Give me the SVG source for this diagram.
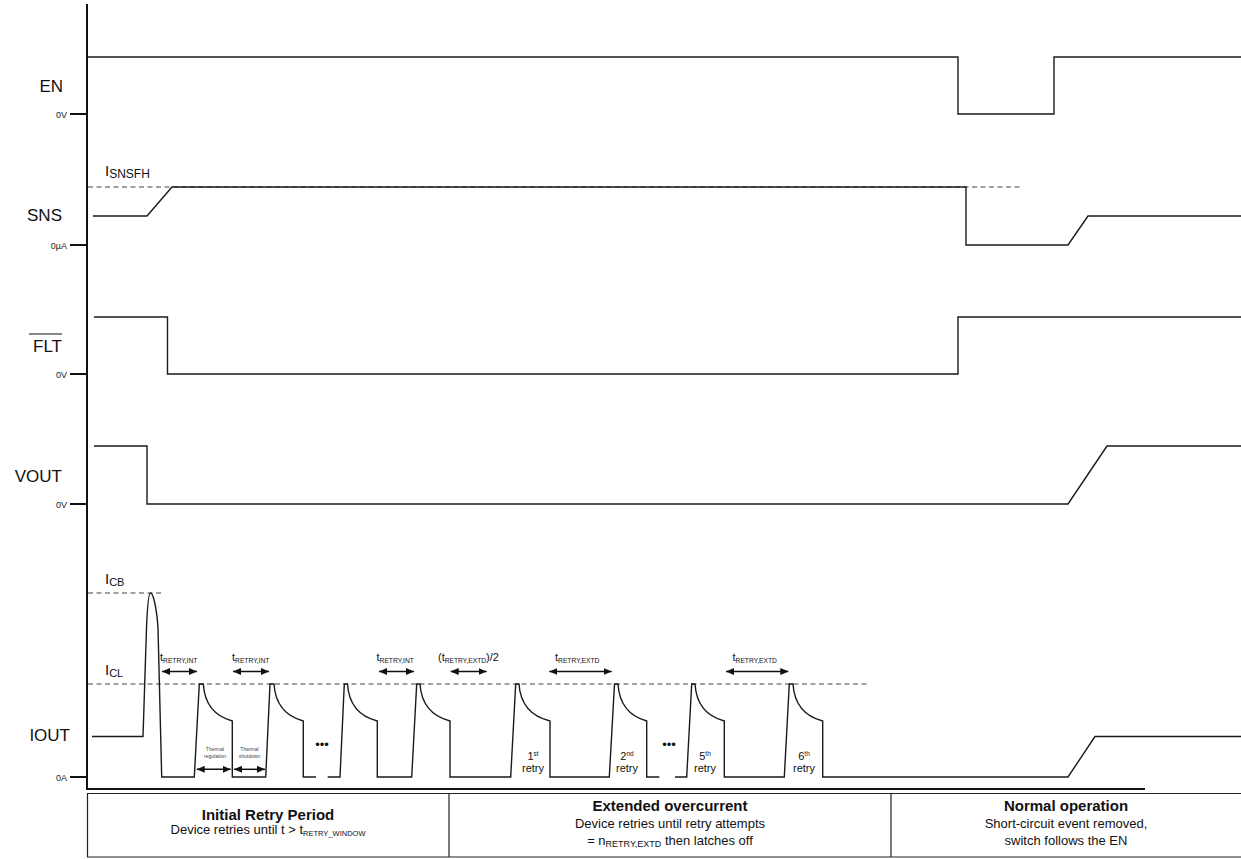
<svg xmlns="http://www.w3.org/2000/svg" width="1241" height="859" viewBox="0 0 1241 859">
<defs>
<style>
.sig{fill:none;stroke:#1a1a1a;stroke-width:1.4;stroke-linejoin:miter}
.dash{fill:none;stroke:#444;stroke-width:1.1;stroke-dasharray:5 3.5}
.ax{fill:none;stroke:#111;stroke-width:2}
.lbl{font-family:"Liberation Sans",Arial,sans-serif;font-size:17px;fill:#111;text-anchor:end}
.sm{font-family:"Liberation Sans",Arial,sans-serif;font-size:9px;fill:#222;text-anchor:end}
.lev{font-family:"Liberation Sans",Arial,sans-serif;font-size:15px;fill:#111}
.t{font-family:"Liberation Sans",Arial,sans-serif;font-size:11px;fill:#111}
.th{font-family:"Liberation Sans",Arial,sans-serif;font-size:5px;fill:#444;text-anchor:middle}
.rt{font-family:"Liberation Sans",Arial,sans-serif;font-size:11px;fill:#111;text-anchor:middle}
.dots{font-family:"Liberation Sans",Arial,sans-serif;font-size:13px;fill:#111;text-anchor:middle}
.arr{fill:none;stroke:#111;stroke-width:1.5;marker-start:url(#ah);marker-end:url(#ah)}
.hd{font-family:"Liberation Sans",Arial,sans-serif;font-size:15px;font-weight:bold;fill:#111;text-anchor:middle}
.tx{font-family:"Liberation Sans",Arial,sans-serif;font-size:13px;fill:#111;text-anchor:middle}
.tb{fill:none;stroke:#222;stroke-width:1.2}
</style>
<marker id="ah" viewBox="0 0 8 7" refX="8" refY="3.5" markerWidth="8" markerHeight="7" markerUnits="userSpaceOnUse" orient="auto-start-reverse">
<path d="M0,0 L8,3.5 L0,7 z" fill="#111"/>
</marker>
</defs>
<rect width="1241" height="859" fill="#fff"/>

<g id="axes">
<path class="ax" d="M87,4 V789 H1145"/>
<path class="ax" d="M70,114 H87 M70,245 H87 M70,374 H87 M70,504 H87 M70,777 H87"/>
<text class="sm" x="67" y="118">0V</text>
<text class="sm" x="67" y="249">0µA</text>
<text class="sm" x="67" y="378">0V</text>
<text class="sm" x="67" y="508">0V</text>
<text class="sm" x="67" y="781">0A</text>
</g>

<g id="labels">
<text class="lbl" x="63" y="92">EN</text>
<text class="lbl" x="62" y="221">SNS</text>
<text class="lbl" x="62" y="352">FLT</text>
<line x1="29" y1="334" x2="62" y2="334" stroke="#111" stroke-width="1.2"/>
<text class="lbl" x="62" y="482">VOUT</text>
<text class="lbl" x="70" y="741">IOUT</text>
</g>

<g id="en">
<path class="sig" d="M88,57 H958 V114 H1054 V57 H1241"/>
</g>

<g id="sns">
<path class="dash" d="M88,187 H1020"/>
<text class="lev" x="105" y="176">I<tspan font-size="12" dy="2">SNSFH</tspan></text>
<path class="sig" d="M93,216 H147 L172,187 H966 V245 H1068 L1088,216 H1241"/>
</g>

<g id="flt">
<path class="sig" d="M94,317 H167.5 V374 H958 V317 H1241"/>
</g>

<g id="vout">
<path class="sig" d="M94,446 H147 V504 H1068 L1107,446 H1241"/>
</g>

<g id="iout">
<path class="dash" d="M88,593 H163"/>
<path class="dash" d="M88,684 H868"/>
<text class="lev" x="105" y="584">I<tspan font-size="11" dy="2">CB</tspan></text>
<text class="lev" x="105" y="675">I<tspan font-size="11" dy="2">CL</tspan></text>
<path class="sig" d="M92,736.5 H143 L146.5,628 C147.5,603 149,593 150.5,593 C153,593 156.5,606 158,628 L161.7,777 H194.3 L199.3,684 H203.3 C204.5,703 214,716 232.3,721 V777 H265.7 L270,684 H274 C275.2,703 285,716 303.3,721 V777 H316"/>
<path class="sig" d="M327.7,777 H340 L344.3,684 H347.5 C348.7,703 358,716 377.3,721 V777 H411.7 L416.7,684 H420 C421.2,703 431,716 450,721 V777 H510.7 L515.7,684 H519 C520.2,703 530,716 550,721 V777 H609.3 L614.5,684 H618 C619.2,703 628.5,716 646.7,721 V777 H659.3"/>
<path class="sig" d="M675,777 H686.7 L691.7,684 H695 C696.2,703 705.5,716 724.3,721 V777 H784.3 L789.3,684 H793 C794.2,703 803.5,716 822.7,721 V777 H1068 L1095,736.5 H1241"/>
</g>

<g id="annotations">
<text class="t" x="160" y="661">t<tspan font-size="6.7" dy="2">RETRY,INT</tspan></text>
<text class="t" x="232" y="661">t<tspan font-size="6.7" dy="2">RETRY,INT</tspan></text>
<text class="t" x="376.5" y="661">t<tspan font-size="6.7" dy="2">RETRY,INT</tspan></text>
<text class="t" x="438" y="661">(t<tspan font-size="6.7" dy="2">RETRY,EXTD</tspan><tspan dy="-2">)/2</tspan></text>
<text class="t" x="555" y="661">t<tspan font-size="6.7" dy="2">RETRY,EXTD</tspan></text>
<text class="t" x="732.5" y="661">t<tspan font-size="6.7" dy="2">RETRY,EXTD</tspan></text>
<line class="arr" x1="162" y1="671.5" x2="197" y2="671.5"/>
<line class="arr" x1="233" y1="671.5" x2="269" y2="671.5"/>
<line class="arr" x1="379" y1="671.5" x2="414" y2="671.5"/>
<line class="arr" x1="450.7" y1="671.5" x2="486.7" y2="671.5"/>
<line class="arr" x1="549.3" y1="671.5" x2="611.7" y2="671.5"/>
<line class="arr" x1="726" y1="671.5" x2="788.3" y2="671.5"/>
<line class="arr" x1="196.7" y1="769.3" x2="230.7" y2="769.3"/>
<line class="arr" x1="234" y1="769.3" x2="265" y2="769.3"/>
<text class="th" x="215" y="751">Thermal</text>
<text class="th" x="215" y="758">regulation</text>
<text class="th" x="249.5" y="751">Thermal</text>
<text class="th" x="249.5" y="758">shutdown</text>
<text class="dots" x="322" y="748.5">•••</text>
<text class="dots" x="669" y="748.5">•••</text>
<text class="rt" x="533" y="759.5">1<tspan font-size="6.5" dy="-4">st</tspan></text>
<text class="rt" x="533" y="772">retry</text>
<text class="rt" x="627" y="759.5">2<tspan font-size="6.5" dy="-4">nd</tspan></text>
<text class="rt" x="627" y="772">retry</text>
<text class="rt" x="705" y="759.5">5<tspan font-size="6.5" dy="-4">th</tspan></text>
<text class="rt" x="705" y="772">retry</text>
<text class="rt" x="804" y="759.5">6<tspan font-size="6.5" dy="-4">th</tspan></text>
<text class="rt" x="804" y="772">retry</text>
</g>

<g id="table">
<path class="tb" d="M87,793.5 H1241 M87,857 H1241 M87.5,793.5 V857 M449,793.5 V857 M891,793.5 V857"/>
<text class="hd" x="268" y="820">Initial Retry Period</text>
<text class="tx" x="268" y="834" font-size="11">Device retries until t &gt; t<tspan font-size="7.5" dy="2">RETRY_WINDOW</tspan></text>
<text class="hd" x="670" y="811">Extended overcurrent</text>
<text class="tx" x="670" y="828">Device retries until retry attempts</text>
<text class="tx" x="670" y="845">= n<tspan font-size="9" dy="2">RETRY,EXTD</tspan><tspan dy="-2"> then latches off</tspan></text>
<text class="hd" x="1066" y="811">Normal operation</text>
<text class="tx" x="1066" y="828">Short-circuit event removed,</text>
<text class="tx" x="1066" y="845">switch follows the EN</text>
</g>
</svg>
